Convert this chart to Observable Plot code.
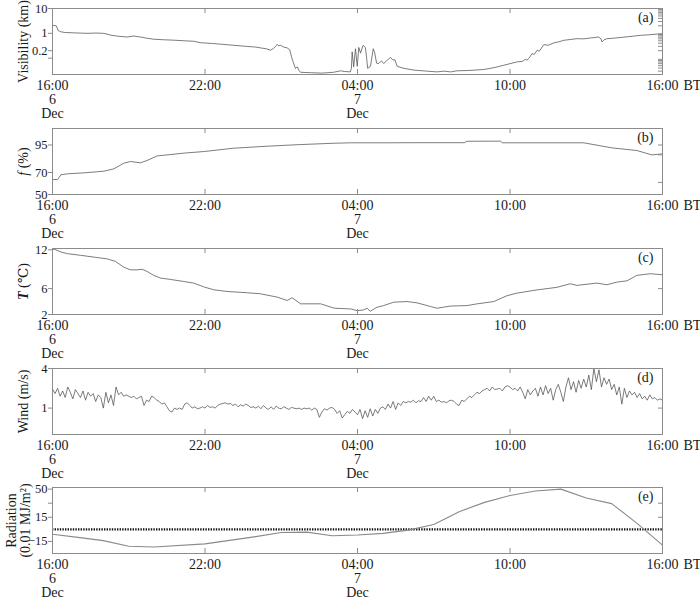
<!DOCTYPE html>
<html><head><meta charset="utf-8">
<script src="https://cdn.jsdelivr.net/npm/d3@7"></script>
<script src="https://cdn.jsdelivr.net/npm/@observablehq/plot@0.6"></script>
<style>
body{margin:0;background:#fff;width:700px;height:597px;overflow:hidden;}
#chart svg{display:block;}
</style></head><body><div id="chart"></div>
<script>
// ---- x axis (hours since 16:00, 6 Dec, BT) ----
const xTickHours = [0, 6, 12, 18, 24];
const xTickLabels = ["16:00\n6\nDec", "22:00", "04:00\n7\nDec", "10:00", "16:00"];
const innerTickHours = [6, 12, 18];

// ---- (a) visibility, km ----
const visHours = [0,0.15,0.22,0.33,0.5,0.8,1.1,1.4,1.7,2.0,2.15,2.3,2.6,2.94,3.2,3.46,3.7,3.98,4.4,4.77,5.2,5.56,5.82,6.3,6.7,7.13,7.6,8.0,8.18,8.4,8.58,8.7,8.78,8.84,8.9,8.97,9.1,9.23,9.33,9.4,9.45,9.52,9.56,9.63,9.7,9.76,10.15,10.6,11.06,11.33,11.5,11.72,11.76,11.79,11.85,11.92,11.99,12.05,12.12,12.22,12.31,12.36,12.4,12.51,12.62,12.68,12.75,12.84,12.94,13.03,13.17,13.3,13.4,13.47,13.56,13.82,14.22,14.74,15.13,15.4,15.66,15.92,16.4,16.97,17.4,17.76,18.0,18.28,18.5,18.6,18.67,18.75,18.8,18.87,18.95,19.07,19.15,19.33,19.5,19.72,19.9,20.12,20.4,20.64,20.9,21.16,21.35,21.49,21.58,21.62,21.7,21.82,22.1,22.47,22.8,23.13,23.5,23.98];
const visKm = [2.1,2.0,1.3,1.15,1.08,1.05,1.02,1.0,1.03,1.0,0.93,0.84,0.76,0.71,0.78,0.71,0.64,0.58,0.55,0.53,0.5,0.48,0.42,0.39,0.36,0.33,0.3,0.28,0.26,0.24,0.21,0.25,0.3,0.36,0.31,0.33,0.28,0.26,0.22,0.12,0.08,0.05,0.038,0.045,0.032,0.027,0.026,0.025,0.027,0.031,0.029,0.028,0.04,0.18,0.045,0.24,0.047,0.27,0.16,0.33,0.27,0.1,0.039,0.047,0.24,0.16,0.063,0.061,0.078,0.061,0.083,0.107,0.083,0.087,0.047,0.039,0.033,0.030,0.028,0.03,0.028,0.031,0.032,0.035,0.042,0.052,0.06,0.071,0.075,0.09,0.083,0.1,0.12,0.154,0.14,0.21,0.19,0.35,0.33,0.41,0.45,0.525,0.57,0.61,0.6,0.65,0.68,0.71,0.6,0.45,0.55,0.61,0.64,0.7,0.76,0.83,0.88,0.97];
const visTicks = [10, 1, 0.2, 0.1];
const visTickLabels = ["10", "1", "0.2", ""];
const visRightTicks = [0.03,0.04,0.05,0.06,0.07,0.08,0.09,0.2,0.3,0.4,0.5,0.6,0.7,0.8,0.9,2,3,4,5,6,7,8,9];

// ---- (b) relative humidity f, % ----
const fHours = [0,0.2,0.33,0.59,1.25,2.03,2.41,2.81,3.07,3.46,3.72,4.12,4.51,5.17,5.98,7.13,8.44,9.76,11.08,11.73,13.0,14.5,16.2,16.31,17.62,17.7,19.0,20.9,22.01,22.99,23.58,23.98];
const fPct = [63.6,63.6,67.9,68.8,69.7,71.2,73.3,78.5,80.0,78.8,80.9,85.1,86.0,87.6,89.1,92.1,93.9,95.4,96.6,97.0,97.0,97.1,97.1,98.4,98.5,97.0,97.0,97.0,92.4,90.0,86.0,86.9];
const fTicks = [95, 70, 50];
const fRightTicks = [95, 86, 61];

// ---- (c) temperature T, °C ----
const tHours = [0,0.1,0.33,0.59,1.1,1.76,2.15,2.48,2.81,3.07,3.33,3.53,3.72,3.98,4.25,4.64,5.17,5.56,5.98,6.35,6.87,7.66,8.18,8.84,9.23,9.43,9.76,10.55,11.08,11.6,11.72,11.98,12.24,12.38,12.5,12.77,13.03,13.42,13.95,14.34,14.87,15.13,15.65,16.31,16.7,17.36,17.88,18.27,19.06,19.85,20.37,20.63,21.42,21.81,22.2,22.6,22.99,23.52,23.98];
const tC = [12.1,12.05,11.66,11.4,11.15,10.8,10.6,10.2,9.3,8.9,8.9,8.98,8.66,8.05,7.63,7.42,7.1,6.85,6.23,5.82,5.56,5.36,5.2,4.69,4.17,4.58,3.65,3.65,2.98,2.88,2.87,2.6,2.7,2.97,2.5,3.13,3.38,3.9,4.0,3.8,3.24,2.97,3.3,3.38,3.64,4.0,4.9,5.3,5.8,6.2,6.75,6.5,6.85,6.6,7.0,7.2,8.05,8.3,8.15];
const tTicks = [12, 6, 2];

// ---- (d) wind speed, m/s, one value every 6 minutes from 16:00 ----
const windStepHours = 0.1;
const windValues = [
2.45,2.1,2.5,1.9,2.3,1.8,2.6,2.2,1.7,2.4,
2.1,1.8,2.3,1.6,2.2,1.9,2.1,1.5,2.0,1.8,
1.0,2.2,1.4,2.0,1.2,2.6,2.0,2.2,1.9,2.0,
1.9,1.8,1.9,1.7,1.8,1.9,1.2,1.6,1.5,1.9,
1.8,1.6,1.5,1.3,1.4,1.1,0.8,0.7,1.0,0.9,
1.0,0.9,1.3,1.4,1.2,1.0,1.1,0.95,1.0,1.1,
1.0,1.2,1.05,1.1,1.0,1.2,1.3,1.35,1.4,1.3,
1.35,1.2,1.3,1.1,1.25,1.15,1.3,1.2,1.05,1.1,
1.0,1.15,0.95,1.2,1.0,0.9,1.1,0.9,1.15,1.0,
0.95,1.1,1.0,0.9,1.05,1.0,0.95,1.0,0.9,1.0,
0.95,1.0,0.85,1.0,0.9,0.3,0.7,0.95,0.85,1.0,
1.05,0.9,0.6,0.8,0.25,0.5,0.75,0.6,0.9,0.7,
0.5,0.9,0.2,0.8,0.3,0.95,0.4,0.9,0.6,1.0,
1.1,0.9,1.3,1.0,1.5,0.9,1.4,1.2,1.5,1.4,
1.5,1.45,1.6,1.4,1.55,1.5,1.8,1.5,1.9,1.6,
1.9,1.5,1.6,1.45,1.5,1.4,1.55,1.6,1.5,1.3,
1.2,1.6,1.5,1.7,1.9,1.8,2.0,2.2,2.1,2.3,
2.4,2.5,2.3,2.6,2.4,2.45,2.5,2.3,2.6,2.7,
2.6,2.4,2.5,2.3,2.6,2.2,1.7,2.4,2.0,2.3,
2.5,1.9,2.6,2.0,2.7,2.1,2.5,1.6,2.4,2.8,
2.2,1.5,2.6,3.3,2.4,3.0,2.2,3.1,2.5,3.2,
2.6,3.5,2.4,4.0,3.0,3.9,2.6,3.3,2.8,3.2,
2.4,2.8,2.0,2.6,1.3,2.5,1.8,2.3,2.0,2.2,
1.8,2.1,1.7,1.9,1.6,2.0,1.7,1.8,1.6,1.7,
1.6];
const windTicks = [4, 1];

// ---- (e) net radiation, 0.01 MJ/m², hourly ----
const radHours = [0,1,2,3,4,6,8,9,10,11,12,13,14,15,16,17,18,19,20,21,22,23,24];
const radValues = [-6,-10,-14,-21,-22,-18,-9,-4,-3.4,-8,-7,-5,-1,6,22,33.5,42,47.6,50,39,32,7.5,-19.5];
const radTicks = [50, 32.5, 15, -15];
const radTickLabels = ["50", "", "15", "\u221215"];
const radRightTicks = [32.5, 15];

// ---------------------------------------------------------------
const W = 700, ML = 52, MR = 38, PH = 66;
const FONT = "'Liberation Serif', 'Times New Roman', 'DejaVu Serif', serif";
const lineColor = "#505050";
const TXT = "#1a1a1a";

function panel({height = 120, marginTop = 8, y, yTicks, yTickLabels, rightTicks, label, labelDx = -29, tag, marks, labelHtml}) {
  const marginBottom = height - marginTop - PH;
  const svg = Plot.plot({
    width: W, height, marginLeft: ML, marginRight: MR, marginTop, marginBottom,
    style: {fontFamily: FONT, fontSize: "14px", color: TXT, background: "white"},
    x: {domain: [0, 24]},
    y,
    marks: [
      ...marks,
      Plot.frame({stroke: "#8c8c8c"}),
      Plot.tickX(innerTickHours, {x: d => d, insetTop: PH - 5, stroke: "#8c8c8c"}),
      Plot.tickX(innerTickHours, {x: d => d, insetBottom: PH - 5, stroke: "#8c8c8c"}),
      Plot.tickY(rightTicks, {y: d => d, insetLeft: W - ML - MR - 4, stroke: "#8c8c8c"}),
      Plot.axisY({ticks: yTicks, tickFormat: d => (yTickLabels ? yTickLabels[yTicks.indexOf(d)] : String(d)), tickSize: 4, tickPadding: 1, fontSize: 12.5, label: null, stroke: "#8c8c8c", fill: TXT}),
      Plot.axisX({ticks: xTickHours, tickFormat: d => xTickLabels[xTickHours.indexOf(d)], tickSize: 0, tickPadding: 5.5, fontSize: 14, label: null, fill: TXT}),
      Plot.text([label], {frameAnchor: "left", rotate: -90, dx: labelDx, textAnchor: "middle", lineAnchor: "middle", fontSize: 14, fill: TXT}),
      Plot.text([tag], {frameAnchor: "top-right", dx: -9, dy: 4, lineAnchor: "top", textAnchor: "end", fontSize: 14, fill: TXT}),
      Plot.text(["BT"], {frameAnchor: "bottom-right", dx: 21, dy: 5.5, lineAnchor: "top", textAnchor: "start", fontSize: 14, fill: TXT})
    ]
  });
  if (labelHtml) {
    d3.select(svg).selectAll("text").filter(function () { return this.textContent === label; }).html(labelHtml);
  }
  document.getElementById("chart").appendChild(svg);
}

const visData = d3.zip(visHours, visKm);
const fData = d3.zip(fHours, fPct);
const tData = d3.zip(tHours, tC);
const windData = windValues.map((v, i) => [i * windStepHours, v]);
const radData = d3.zip(radHours, radValues);

panel({
  y: {type: "log", domain: [0.022, 10]},
  yTicks: visTicks, yTickLabels: visTickLabels, rightTicks: visRightTicks,
  label: "Visibility (km)", tag: "(a)",
  marks: [Plot.line(visData, {x: "0", y: "1", stroke: lineColor, strokeWidth: 0.75})]
});
panel({
  y: {domain: [50, 110]},
  yTicks: fTicks, rightTicks: fRightTicks,
  label: "f (%)", labelHtml: '<tspan font-style="italic">f</tspan> (%)', tag: "(b)",
  marks: [Plot.line(fData, {x: "0", y: "1", stroke: lineColor, strokeWidth: 0.75})]
});
panel({
  y: {domain: [2, 12.2]},
  yTicks: tTicks, rightTicks: [6],
  label: "T (\u2103)", labelHtml: '<tspan font-style="italic" font-weight="bold">T</tspan> (\u2103)', tag: "(c)",
  marks: [Plot.line(tData, {x: "0", y: "1", stroke: lineColor, strokeWidth: 0.75})]
});
panel({
  y: {domain: [-1, 4]},
  yTicks: windTicks, rightTicks: [1],
  label: "Wind (m/s)", tag: "(d)",
  marks: [Plot.line(windData, {x: "0", y: "1", stroke: lineColor, strokeWidth: 0.75})]
});
panel({
  marginTop: 7,
  y: {domain: [-30, 52]},
  yTicks: radTicks, yTickLabels: radTickLabels, rightTicks: radRightTicks,
  label: "Radiation\n(0.01 MJ/m\u00b2)", labelDx: -34, tag: "(e)",
  marks: [
    Plot.ruleY([0], {stroke: "#111", strokeWidth: 2.2, strokeDasharray: "1.4,1.2"}),
    Plot.line(radData, {x: "0", y: "1", stroke: "#8a8a8a", strokeWidth: 1.1})
  ]
});
</script></body></html>
